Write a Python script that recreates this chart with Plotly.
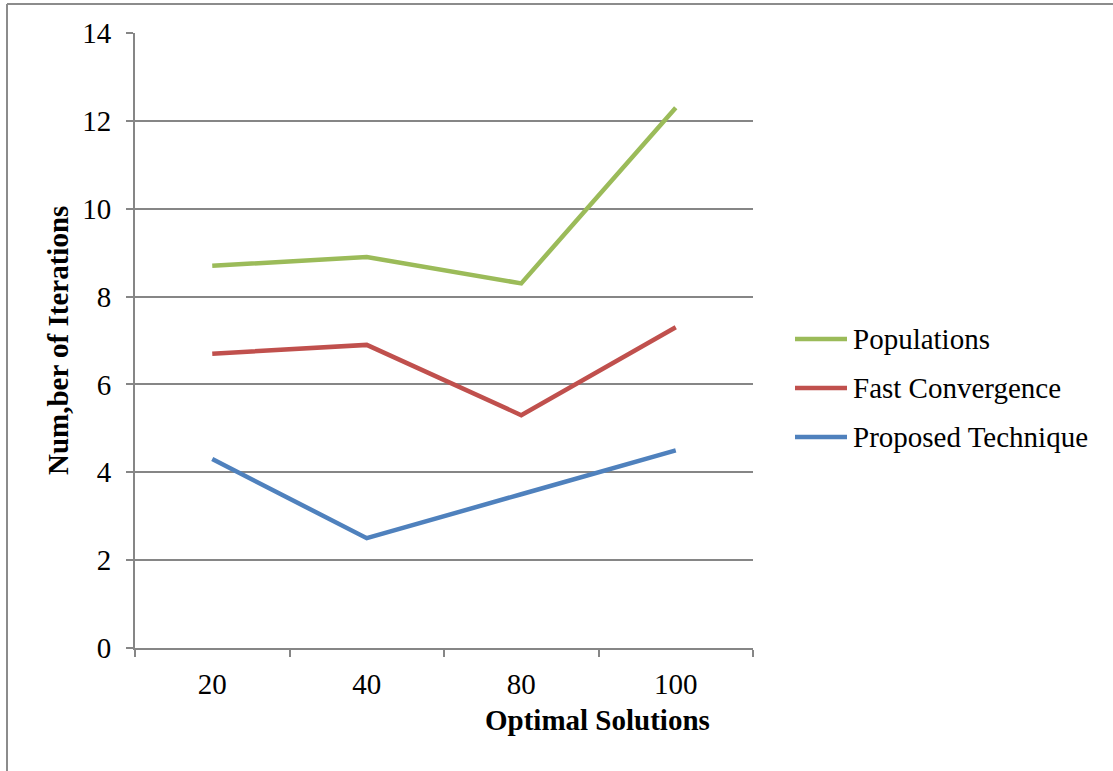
import plotly.graph_objects as go

categories = ["20", "40", "80", "100"]
populations = [8.7, 8.9, 8.3, 12.3]
fast_convergence = [6.7, 6.9, 5.3, 7.3]
proposed_technique = [4.3, 2.5, 3.5, 4.5]
y_ticks = [0, 2, 4, 6, 8, 10, 12, 14]

FONT = "Liberation Serif, Times New Roman, serif"
FS = 29
AXIS_GRAY = "#868686"

W, H = 1113, 771
L, R, T, B = 135, 360, 33, 123
pw, ph = W - L - R, H - T - B


def px_x(x):
    return (x - L) / pw


def px_y(y):
    return (H - B - y) / ph


series = [
    ("Populations", populations, "#9BBB59"),
    ("Fast Convergence", fast_convergence, "#C0504D"),
    ("Proposed Technique", proposed_technique, "#4F81BD"),
]

fig = go.Figure()
for name, vals, color in series:
    fig.add_trace(go.Scatter(
        x=categories, y=vals, name=name, mode="lines",
        line=dict(color=color, width=4.5), showlegend=False,
    ))

# legend drawn beside the plot: a short line sample and the series name
shapes = []
annotations = []
legend_rows = [339, 388, 437]
for (name, _, color), row in zip(series, legend_rows):
    shapes.append(dict(
        type="line", xref="paper", yref="paper",
        x0=px_x(795), x1=px_x(847), y0=px_y(row), y1=px_y(row),
        line=dict(color=color, width=4.5),
    ))
    annotations.append(dict(
        text=name, xref="paper", yref="paper", x=px_x(851), y=px_y(row),
        xanchor="left", yanchor="middle", showarrow=False,
        font=dict(size=FS, family=FONT, color="black"),
    ))

# axis titles
annotations += [
    dict(text="<b>Optimal Solutions</b>", xref="paper", yref="paper",
         x=px_x(597), y=px_y(720), xanchor="center", yanchor="middle",
         showarrow=False, font=dict(size=FS, family=FONT, color="black")),
    dict(text="<b>Num,ber of Iterations</b>", xref="paper", yref="paper",
         x=px_x(58), y=px_y(341), xanchor="center", yanchor="middle",
         textangle=-90, showarrow=False,
         font=dict(size=FS, family=FONT, color="black")),
]

# outer frame
shapes += [
    dict(type="line", xref="paper", yref="paper",
         x0=px_x(7), x1=px_x(7), y0=px_y(H + 5), y1=px_y(4),
         line=dict(color="#8C8C8C", width=2)),
    dict(type="line", xref="paper", yref="paper",
         x0=px_x(7), x1=px_x(W + 5), y0=px_y(4), y1=px_y(4),
         line=dict(color="#8C8C8C", width=2)),
]

fig.update_layout(
    width=W, height=H,
    margin=dict(l=L, r=R, t=T, b=B, autoexpand=False),
    paper_bgcolor="white", plot_bgcolor="white",
    font=dict(family=FONT, size=FS, color="black"),
    showlegend=False,
    xaxis=dict(
        type="category", tickson="boundaries", ticks="outside", ticklen=7,
        tickcolor=AXIS_GRAY, tickwidth=2,
        showline=True, linecolor=AXIS_GRAY, linewidth=2,
        showgrid=False, zeroline=False,
        range=[-0.5, 3.5], ticklabelstandoff=9,
        tickfont=dict(size=FS),
    ),
    yaxis=dict(
        range=[0, 14], tickvals=y_ticks, ticks="outside", ticklen=7,
        tickcolor=AXIS_GRAY, tickwidth=2,
        showline=True, linecolor=AXIS_GRAY, linewidth=2,
        showgrid=True, gridcolor=AXIS_GRAY, gridwidth=2,
        zeroline=False, ticklabelstandoff=9,
        tickfont=dict(size=FS),
    ),
    shapes=shapes,
    annotations=annotations,
)

fig.write_html("out.html")
